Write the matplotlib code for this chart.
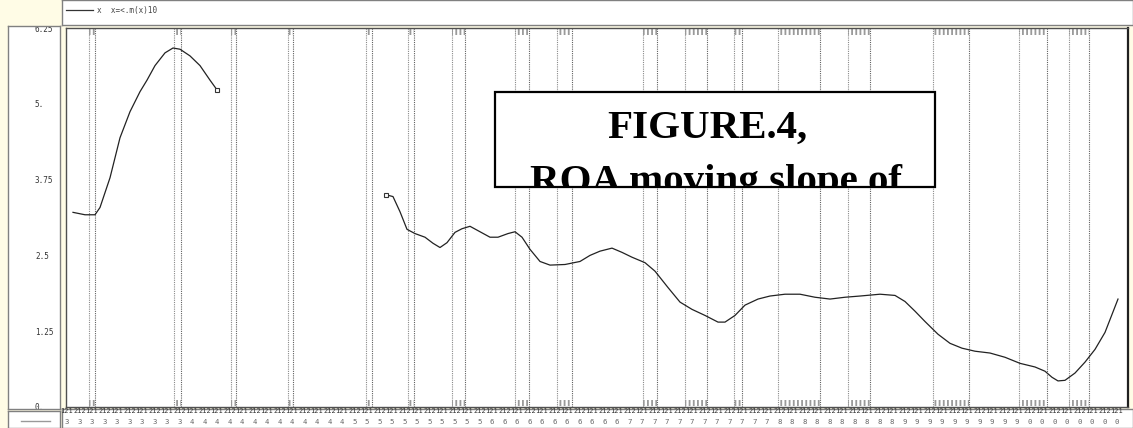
import matplotlib
matplotlib.use("Agg")
import matplotlib.pyplot as plt
from matplotlib.patches import Rectangle
from matplotlib.lines import Line2D
from matplotlib.transforms import Bbox, TransformedBbox

# ---------------- data ----------------
y_ticks = [0, 1.25, 2.5, 3.75, 5, 6.25]
y_tick_labels = ["0.", "1.25", "2.5", "3.75", "5.", "6.25"]

# x tick labels: top row (alternating) and second row (year digit)
year_digits = (["3"] * 10 + ["4"] * 13 + ["5"] * 11 + ["6"] * 11 +
               ["7"] * 12 + ["8"] * 10 + ["9"] * 10 + ["0"] * 8)
top_labels = ["121" if i % 2 == 0 else "212" for i in range(len(year_digits))]

# series, segment 1 (x in tick-index units)
seg1_x = [0.48, 1.44, 2.24, 2.64, 3.44, 4.24, 5.04, 5.84, 6.4, 7.04, 7.84,
          8.48, 9.04, 9.84, 10.64, 11.44, 12.0]
seg1_y = [3.21, 3.17, 3.17, 3.29, 3.78, 4.44, 4.87, 5.20, 5.39, 5.63, 5.84,
          5.92, 5.90, 5.79, 5.63, 5.39, 5.23]

# series, segment 2
seg2_x = [25.52, 26.08, 26.64, 27.2, 27.84, 28.64, 29.28, 29.84, 30.4, 31.04,
          31.6, 32.24, 33.04, 33.84, 34.48, 35.28, 35.84, 36.4, 37.04, 37.84,
          38.64, 39.84, 41.04, 41.84, 42.64, 43.6, 44.4, 45.2, 46.24, 47.04,
          48.08, 49.04, 50.0, 51.04, 52.08, 52.64, 53.44, 54.24, 55.28, 56.24,
          57.44, 58.64, 59.84, 61.04, 62.24, 63.44, 65.04, 66.24, 67.04, 67.84,
          68.64, 69.68, 70.64, 71.6, 72.64, 73.84, 75.04, 76.24, 77.44, 78.24,
          78.8, 79.28, 79.84, 80.64, 81.44, 82.24, 83.04, 84.08]
seg2_y = [3.50, 3.47, 3.22, 2.93, 2.86, 2.80, 2.70, 2.63, 2.71, 2.88,
          2.94, 2.98, 2.89, 2.80, 2.80, 2.86, 2.89, 2.80, 2.60, 2.40,
          2.34, 2.35, 2.40, 2.50, 2.57, 2.62, 2.55, 2.47, 2.38, 2.24,
          1.97, 1.73, 1.61, 1.51, 1.40, 1.40, 1.51, 1.68, 1.78, 1.83,
          1.86, 1.86, 1.81, 1.78, 1.81, 1.83, 1.86, 1.84, 1.74, 1.58,
          1.41, 1.20, 1.05, 0.97, 0.92, 0.89, 0.82, 0.72, 0.66, 0.59,
          0.49, 0.43, 0.44, 0.56, 0.74, 0.95, 1.23, 1.78]

# marked intervals (pairs of dotted vertical lines)
span_start = [1.76, 8.56, 13.12, 17.68, 23.92, 27.28, 30.8, 35.84, 39.2,
              46.08, 49.44, 53.36, 56.88, 62.48, 69.28, 76.16, 80.16]
span_end = [2.24, 9.12, 13.52, 18.08, 24.4, 27.76, 31.84, 36.96, 40.4,
            47.2, 51.2, 54.0, 60.24, 64.24, 72.16, 78.4, 81.76]

legend_label = "x  x=<.m(x)10"
title_line1 = "FIGURE.4,"
title_line2 = "ROA moving slope of"

# ---------------- layout ----------------
W, H = 1133, 428
BG = "#FFFCE6"
plt.rcParams["hatch.linewidth"] = 1.3
fig = plt.figure(figsize=(W / 100, H / 100), dpi=100, facecolor=BG)


def px_axes(x0, y0, x1, y1, **kw):
    return fig.add_axes([x0 / W, 1 - y1 / H, (x1 - x0) / W, (y1 - y0) / H], **kw)


def panel(a, edge="#808080"):
    a.set_facecolor("white")
    a.set_xticks([])
    a.set_yticks([])
    for s in a.spines.values():
        s.set_color(edge)
        s.set_linewidth(1)


leg_ax = px_axes(62, 0, 1133, 25)
panel(leg_ax)
lab_ax = px_axes(62, 409, 1133, 428)
panel(lab_ax)
left_ax = px_axes(8, 26, 60, 409)
panel(left_ax)
bl_ax = px_axes(8, 411, 60, 428)
panel(bl_ax)
bl_ax.plot([0.25, 0.8], [0.4, 0.4], color="#999999", lw=1)
bl_ax.set_xlim(0, 1)
bl_ax.set_ylim(0, 1)

ax = px_axes(66, 28, 1128, 407, zorder=3)
ax.set_facecolor("white")
for s in ax.spines.values():
    s.set_color("#505050")
    s.set_linewidth(1)
ax.spines["right"].set_color("#202020")
ax.spines["right"].set_linewidth(1.6)

n = len(year_digits)
ax.set_xlim(-0.08, 84.88)
ax.set_ylim(0, 6.25)
ax.set_yticks([])
ax.set_xticks(range(n), labels=top_labels, family="DejaVu Sans Mono")
ax.tick_params(axis="x", length=0, pad=0.6, labelsize=5, labelcolor="#333333")

sec = ax.secondary_xaxis("bottom")
sec.set_xticks(range(n), labels=year_digits, family="DejaVu Sans Mono")
sec.tick_params(axis="x", length=0, pad=8.3, labelsize=5.2, labelcolor="#666666")
sec.spines["bottom"].set_visible(False)

# left value panel
scale = 379 / 6.25
left_ax.set_ylim(-2 / scale, 6.25 + 2 / scale)
left_ax.set_yticks(y_ticks, labels=y_tick_labels, family="DejaVu Sans Mono",
                   ha="left")
left_ax.tick_params(axis="y", length=0, pad=-19.4, labelsize=5.5,
                    labelcolor="#333333")
for lbl in left_ax.get_yticklabels():
    lbl.set_clip_box(left_ax.bbox)
    lbl.set_clip_on(True)

# dotted interval lines and hatch marks
for s0, s1 in zip(span_start, span_end):
    for xv, c in ((s0, "#8a8a8a"), (s1, "#606060")):
        ax.axvline(xv, color=c, lw=0.8, ls=(0, (1, 1)), zorder=1)
    h = 0.115
    ax.add_patch(Rectangle((s0, 6.25 - h), s1 - s0, h, fill=False,
                           hatch="||||", edgecolor="#9a9a9a", lw=0, zorder=1))
    ax.add_patch(Rectangle((s0, 0.02), s1 - s0, 0.1, fill=False,
                           hatch="||||", edgecolor="#9a9a9a", lw=0, zorder=1))

# series
line_kw = dict(color="#222222", lw=0.9, zorder=4)
ax.plot(seg1_x, seg1_y, marker="s", markevery=[len(seg1_x) - 1], ms=2.5,
        mfc="white", mec="#333333", mew=0.8, **line_kw)
ax.plot(seg2_x, seg2_y, marker="s", markevery=[0], ms=2.5,
        mfc="white", mec="#333333", mew=0.8, **line_kw)

# legend in top panel
handle = Line2D([], [], color="#333333", lw=0.9)
fig.legend([handle], [legend_label], loc="upper left",
           bbox_to_anchor=(61 / W, 1 - 0.5 / H), frameon=False,
           handlelength=3.5, handletextpad=0.55, borderpad=0.2,
           prop={"family": "DejaVu Sans Mono", "size": 5.5},
           labelcolor="#444444")

# title box (text clipped to the box)
def ax_frac(px, py):
    return (px - 66) / 1062, (407 - py) / 379

bx0, by1 = ax_frac(495, 92)
bx1, by0 = ax_frac(935, 187)
box = Rectangle((bx0, by0), bx1 - bx0, by1 - by0, transform=ax.transAxes,
                facecolor="white", edgecolor="black", lw=1.6, zorder=6)
ax.add_patch(box)
clip = TransformedBbox(Bbox([[bx0, by0], [bx1, by1]]), ax.transAxes)
tx1, ty1 = ax_frac(707, 138)
tx2, ty2 = ax_frac(716, 192)
for (tx, ty, s) in ((tx1, ty1, title_line1), (tx2, ty2, title_line2)):
    t = ax.text(tx, ty, s, transform=ax.transAxes, ha="center",
                va="baseline", family="Liberation Serif", weight="bold",
                fontsize=29.5, color="black", zorder=7)
    t.set_clip_box(clip)
    t.set_clip_on(True)

fig.savefig("out.png", dpi=100, facecolor=BG)
